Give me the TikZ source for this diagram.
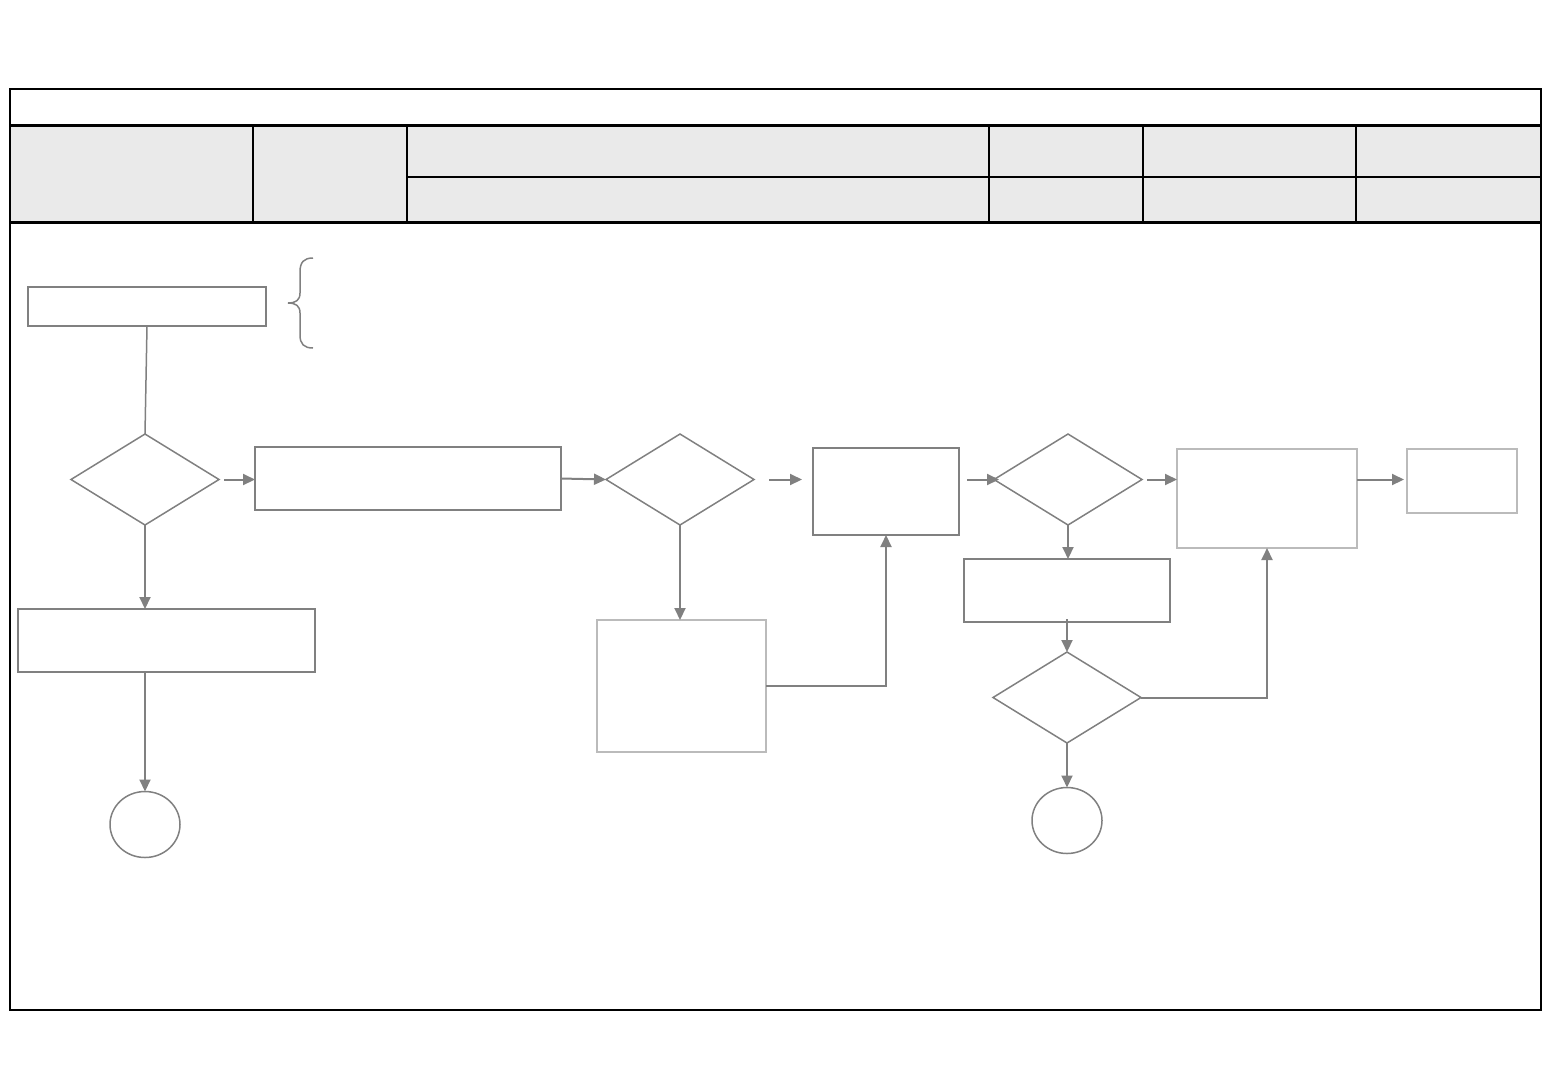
\documentclass[tikz,border=0pt]{standalone}
\usetikzlibrary{shapes.geometric,arrows.meta}
\definecolor{ln}{HTML}{808080}
\definecolor{lt}{HTML}{BBBBBB}
\definecolor{hd}{HTML}{EAEAEA}
\begin{document}
\begin{tikzpicture}[x=1pt,y=-1pt,
  box/.style={draw=ln,line width=1.5pt,rectangle,inner sep=0pt,outer sep=0pt},
  lbox/.style={draw=lt,line width=1.5pt,rectangle,inner sep=0pt,outer sep=0pt},
  dec/.style={draw=ln,line width=1.5pt,diamond,inner sep=0pt,outer sep=0pt,minimum width=148pt,minimum height=91pt},
  term/.style={draw=ln,line width=1.5pt,ellipse,inner sep=0pt,outer sep=0pt,minimum width=70pt,minimum height=66pt},
  conn/.style={draw=ln,line width=2pt,-{Triangle[length=12pt,width=11pt]}},
  plain/.style={draw=ln,line width=1.5pt}]
\useasboundingbox (0,0) rectangle (1560,1080);
% table frame
\fill[hd] (10,125) rectangle (1541,222);
\draw[line width=2.5pt] (10,89) rectangle (1541,1010);
\draw[line width=3pt] (10,125) -- (1541,125);
\draw[line width=3pt] (10,222) -- (1541,222);
\draw[line width=2pt] (407,177) -- (1541,177);
\foreach \x in {253,407,989,1143,1356} \draw[line width=2pt] (\x,125) -- (\x,222);
% nodes
\node[box,minimum width=238pt,minimum height=39pt] (A) at (147,306.5) {};
\node[dec] (D1) at (145,479.5) {};
\node[box,minimum width=306pt,minimum height=63pt] (B) at (408,478.5) {};
\node[dec] (D2) at (680,479.5) {};
\node[box,minimum width=146pt,minimum height=87pt] (C) at (886,491.5) {};
\node[dec] (D3) at (1068,479.5) {};
\node[lbox,minimum width=180pt,minimum height=99pt] (E) at (1267,498.5) {};
\node[lbox,minimum width=110pt,minimum height=64pt] (F) at (1462,481) {};
\node[box,minimum width=297pt,minimum height=63pt] (G) at (166.5,640.5) {};
\node[term] (H1) at (145,824.5) {};
\node[lbox,minimum width=169pt,minimum height=132pt] (I) at (681.5,686) {};
\node[box,minimum width=206pt,minimum height=63pt] (J) at (1067,590.5) {};
\node[dec] (D4) at (1067,697.5) {};
\node[term] (H2) at (1067,820.5) {};
% brace
\draw[plain] (313,258) .. controls (304,258) and (300,262) .. (300,272) -- (300,293)
  .. controls (300,300) and (296,303) .. (288,303)
  .. controls (296,303) and (300,306) .. (300,313) -- (300,335)
  .. controls (300,344) and (304,348) .. (313,348);
% connectors
\draw[plain] (A.south) -- (D1.north);
\draw[conn] ([xshift=5pt]D1.east) -- (B.west |- D1.east);
\draw[conn] (B.east) -- (D2.west);
\draw[conn] ([xshift=15pt]D2.east) -- ([xshift=-11pt]C.west |- D2.east);
\draw[conn] ([xshift=8pt]C.east |- D3.west) -- ([xshift=5pt]D3.west);
\draw[conn] ([xshift=5pt]D3.east) -- (E.west |- D3.east);
\draw[conn] (E.east |- D3.east) -- ([xshift=-3pt]F.west |- D3.east);
\draw[conn] (D1.south) -- (G.north -| D1.south);
\draw[conn] (G.south -| H1.north) -- (H1.north);
\draw[conn] (D2.south) -- (I.north -| D2.south);
\draw[conn] (I.east |- 0,686) -| (C.south);
\draw[conn] (D3.south) -- (J.north -| D3.south);
\draw[conn] ([yshift=3pt]J.south) -- (D4.north);
\draw[conn] (D4.east) -| (E.south);
\draw[conn] (D4.south) -- (H2.north);
\end{tikzpicture}
\end{document}
